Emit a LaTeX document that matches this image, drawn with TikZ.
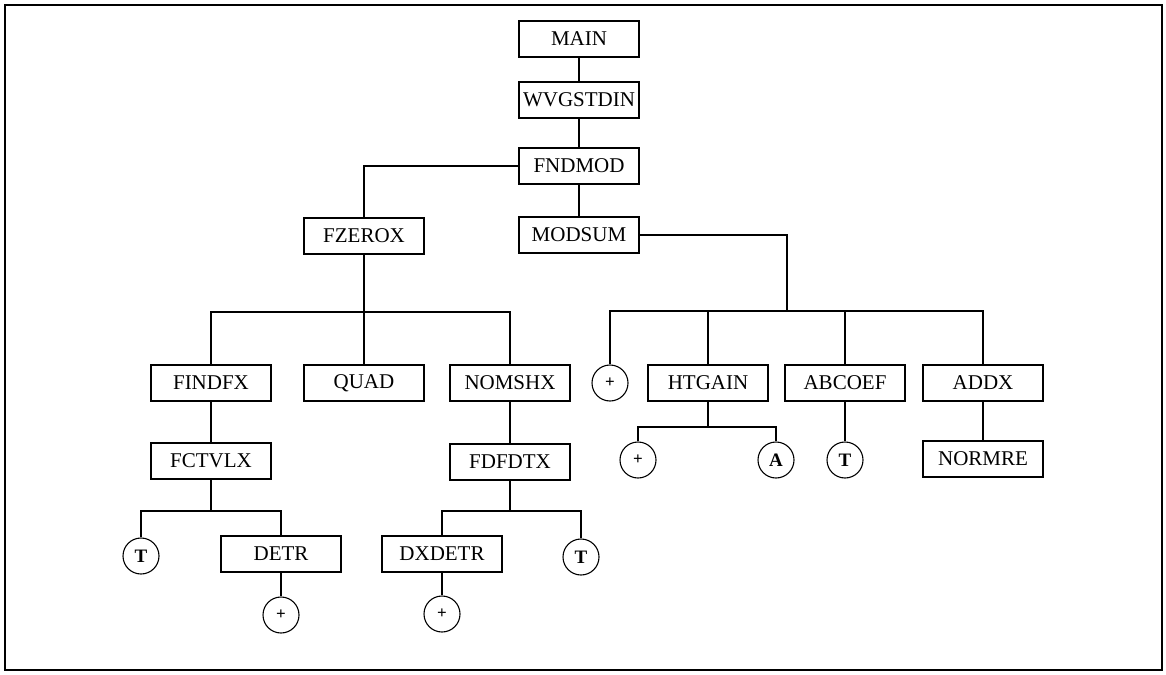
\documentclass[tikz,border=0pt]{standalone}
\usepackage{fontspec}
\setmainfont{Liberation Serif}

\begin{document}
\begin{tikzpicture}[x=1pt,y=-1pt,
    modbox/.style={draw, line width=1.1pt, minimum width=120pt, minimum height=36pt,
        inner sep=0pt, font=\fontsize{21}{24}\selectfont},
    mark circ/.style={draw, circle, line width=1.1pt, minimum size=36pt, inner sep=0pt,
        font=\fontsize{19}{22}\selectfont\bfseries},
    plus circ/.style={mark circ, font=\fontsize{17}{20}\selectfont\bfseries},
    link/.style={line width=1.1pt}]

\useasboundingbox (0,0) rectangle (1166,674);

% frame
\draw[line width=2pt] (5,5) rectangle (1162,670);

% top of the tree
\node[modbox] (main)   at (579,39)  {MAIN};
\node[modbox] (wvg)    at (579,100) {WVGSTDIN};
\node[modbox] (fndmod) at (579,166) {FNDMOD};
\node[modbox] (modsum) at (579,235) {MODSUM};
\node[modbox] (fzerox) at (364,236) {FZEROX};

% fzerox branch
\node[modbox] (findfx) at (211,383) {FINDFX};
\node[modbox] (quad)   at (364,383) {QUAD};
\node[modbox] (nomshx) at (510,383) {NOMSHX};
\node[modbox] (fctvlx) at (211,461) {FCTVLX};
\node[modbox] (fdfdtx) at (510,462) {FDFDTX};
\node[mark circ] (tfct)  at (141,556) {T};
\node[modbox]    (detr)  at (281,554) {DETR};
\node[plus circ] (pdetr) at (281,615) {+};
\node[modbox]    (dxdetr) at (442,554) {DXDETR};
\node[plus circ] (pdx)   at (442,614) {+};
\node[mark circ] (tfdf)  at (581,557) {T};

% modsum branch
\node[plus circ] (pmod)   at (610,383) {+};
\node[modbox]    (htgain) at (708,383) {HTGAIN};
\node[modbox]    (abcoef) at (845,383) {ABCOEF};
\node[modbox]    (addx)   at (983,383) {ADDX};
\node[modbox]    (normre) at (983,459) {NORMRE};
\node[plus circ] (pht)    at (638,460) {+};
\node[mark circ] (aht)    at (776,460) {A};
\node[mark circ] (tab)    at (845,460) {T};

% bus points
\coordinate (fzbus) at (364,312);
\coordinate (msbus) at (787,311);
\coordinate (htbus) at (708,427);
\coordinate (fcbus) at (211,511);
\coordinate (fdbus) at (510,511);

% connectors
\draw[link] (main) -- (wvg);
\draw[link] (wvg) -- (fndmod);
\draw[link] (fndmod) -- (modsum);
\draw[link] (fndmod.west) -| (fzerox.north);

\draw[link] (fzerox) -- (quad);
\draw[link] (findfx.north) |- (fzbus) -| (nomshx.north);
\draw[link] (findfx) -- (fctvlx);
\draw[link] (nomshx) -- (fdfdtx);
\draw[link] (fctvlx.south) -- (fcbus);
\draw[link] (tfct.north) |- (fcbus) -| (detr.north);
\draw[link] (detr) -- (pdetr);
\draw[link] (fdfdtx.south) -- (fdbus);
\draw[link] (dxdetr.north) |- (fdbus) -| (tfdf.north);
\draw[link] (dxdetr) -- (pdx);

\draw[link] (modsum.east) -| (msbus);
\draw[link] (pmod.north) |- (msbus) -| (addx.north);
\draw[link] (htgain.north) -- (htgain.north |- msbus);
\draw[link] (abcoef.north) -- (abcoef.north |- msbus);
\draw[link] (htgain.south) -- (htbus);
\draw[link] (pht.north) |- (htbus) -| (aht.north);
\draw[link] (abcoef) -- (tab);
\draw[link] (addx) -- (normre);

\end{tikzpicture}
\end{document}
